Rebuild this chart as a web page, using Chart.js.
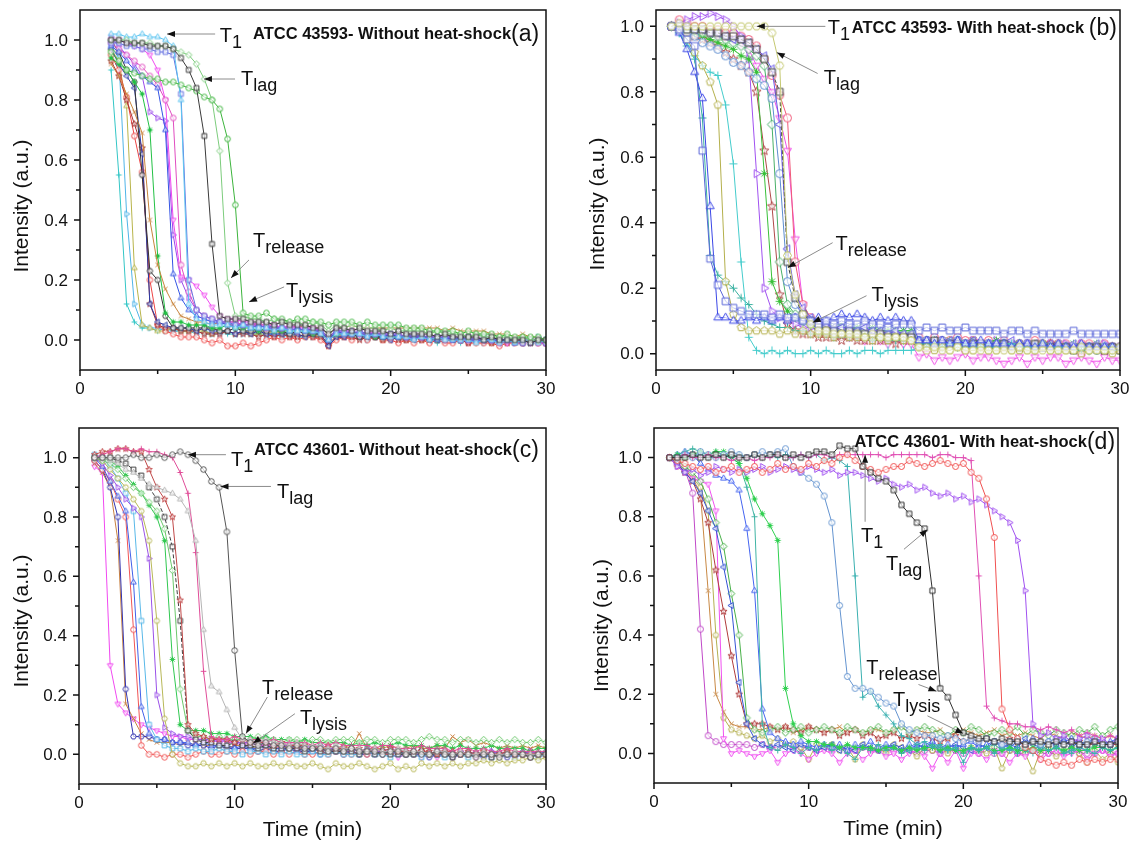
<!DOCTYPE html>
<html>
<head>
<meta charset="utf-8">
<script src="https://cdn.jsdelivr.net/npm/chart.js@4.4.1/dist/chart.umd.min.js"></script>
<style>
  body { margin: 0; background: #fff; }
  #wrap { position: relative; width: 1132px; height: 846px; overflow: hidden; }
  .panel { position: absolute; width: 566px; height: 423px; }
</style>
</head>
<body>
<div id="wrap">
  <div class="panel" style="left:0;top:0"><canvas id="chartA" width="566" height="423"></canvas></div>
  <div class="panel" style="left:566px;top:0"><canvas id="chartB" width="566" height="423"></canvas></div>
  <div class="panel" style="left:0;top:423px"><canvas id="chartC" width="566" height="423"></canvas></div>
  <div class="panel" style="left:566px;top:423px"><canvas id="chartD" width="566" height="423"></canvas></div>
</div>
<script>
// ---- sample times (min) ----
const minutesFrom2 = [2.0,2.5,3.0,3.5,4.0,4.5,5.0,5.5,6.0,6.5,7.0,7.5,8.0,8.5,9.0,9.5,10.0,10.5,11.0,11.5,
  12.0,12.5,13.0,13.5,14.0,14.5,15.0,15.5,16.0,16.5,17.0,17.5,18.0,18.5,19.0,19.5,20.0,20.5,21.0,21.5,
  22.0,22.5,23.0,23.5,24.0,24.5,25.0,25.5,26.0,26.5,27.0,27.5,28.0,28.5,29.0,29.5,30.0];
const minutesFrom1 = [1.0,1.5,2.0,2.5,3.0,3.5,4.0,4.5,5.0,5.5,6.0,6.5,7.0,7.5,8.0,8.5,9.0,9.5,10.0,10.5,
  11.0,11.5,12.0,12.5,13.0,13.5,14.0,14.5,15.0,15.5,16.0,16.5,17.0,17.5,18.0,18.5,19.0,19.5,20.0,20.5,
  21.0,21.5,22.0,22.5,23.0,23.5,24.0,24.5,25.0,25.5,26.0,26.5,27.0,27.5,28.0,28.5,29.0,29.5,30.0];

// ---- axis ticks ----
const xMajor = [0, 10, 20, 30];
const xMinor = [5, 15, 25];
const yMajor = [0.0, 0.2, 0.4, 0.6, 0.8, 1.0];
const yMinor = [0.1, 0.3, 0.5, 0.7, 0.9];

// ---- (a) ATCC 43593 without heat-shock ----
const a_cyanPlus = [0.90,0.55,0.12,0.06,0.04,0.04,0.03,0.04,0.03,0.03,
  0.03,0.03,0.02,0.02,0.03,0.02,0.02,0.03,0.02,0.02,
  0.02,0.02,0.01,0.02,0.01,0.01,0.01,0.01,-0.02,0.01,
  0.01,0.01,0.01,0.00,0.01,0.01,0.00,0.01,0.00,0.00,
  0.01,0.00,-0.01,0.00,0.00,-0.01,0.00,-0.01,0.00,-0.01,
  -0.01,-0.01,0.00,0.00,-0.01,-0.01,-0.01];
const a_skyTriR = [0.98,0.94,0.42,0.12,0.05,0.04,0.04,0.03,0.03,0.03,
  0.03,0.02,0.03,0.02,0.02,0.03,0.02,0.02,0.02,0.02,
  0.01,0.02,0.01,0.02,0.01,0.02,0.01,0.01,-0.01,0.01,
  0.01,0.01,0.01,0.00,0.01,0.01,0.00,0.01,0.00,0.01,
  0.00,0.01,0.00,0.00,0.00,0.01,-0.01,0.00,-0.01,0.00,
  -0.01,0.00,-0.01,0.00,-0.01,0.01,0.00];
const a_oliveTri = [0.97,0.93,0.78,0.24,0.05,0.04,0.03,0.03,0.04,0.03,
  0.03,0.03,0.03,0.02,0.03,0.03,0.02,0.03,0.02,0.02,
  0.02,0.03,0.02,0.02,0.02,0.01,0.02,0.01,-0.01,0.01,
  0.02,0.01,0.01,0.01,0.01,0.00,0.01,0.01,0.00,0.01,
  0.00,0.01,0.00,0.01,0.00,0.00,0.01,0.00,0.00,-0.01,
  0.00,0.00,-0.01,0.00,0.00,-0.01,0.00];
const a_redCircle = [0.95,0.90,0.81,0.68,0.56,0.20,0.05,0.03,0.02,0.01,
  0.01,0.01,0.00,-0.01,0.00,-0.02,-0.02,-0.01,-0.02,-0.01,
  0.00,0.01,0.00,0.01,0.00,0.01,0.01,0.00,-0.02,0.00,
  0.01,0.00,0.01,0.00,0.01,0.00,0.00,-0.01,0.00,-0.01,
  0.00,-0.01,0.00,-0.01,-0.01,0.00,-0.01,-0.01,-0.01,-0.01,
  -0.02,-0.01,-0.01,-0.01,0.00,-0.01,-0.01];
const a_brownStar = [0.93,0.88,0.80,0.72,0.64,0.12,0.05,0.04,0.04,0.03,
  0.03,0.03,0.02,0.02,0.02,0.03,0.02,0.02,0.02,0.01,
  0.02,0.01,0.02,0.01,0.01,0.02,0.01,0.01,-0.02,0.01,
  0.01,0.01,0.00,0.01,0.01,0.00,0.01,0.00,0.00,0.01,
  0.00,0.00,0.01,0.00,0.00,0.00,-0.01,0.00,0.00,-0.01,
  0.00,-0.01,0.00,0.00,-0.01,0.00,-0.01];
const a_navyTriL = [0.97,0.92,0.88,0.84,0.62,0.12,0.06,0.05,0.04,0.04,
  0.04,0.03,0.04,0.03,0.03,0.03,0.02,0.03,0.02,0.03,
  0.02,0.02,0.02,0.02,0.02,0.01,0.02,0.02,-0.02,0.01,
  0.01,0.02,0.01,0.01,0.01,0.01,0.00,0.01,0.01,0.00,
  0.01,0.00,0.00,0.01,0.00,0.00,0.00,0.01,0.00,0.00,
  -0.01,0.00,0.00,-0.01,0.00,0.00,-0.01];
const a_darkHex = [1.00,0.96,0.90,0.86,0.55,0.23,0.20,0.08,0.04,0.04,
  0.04,0.04,0.04,0.04,0.03,0.03,0.04,0.03,0.03,0.03,
  0.03,0.03,0.03,0.02,0.03,0.02,0.02,0.02,0.00,0.02,
  0.02,0.02,0.01,0.02,0.01,0.01,0.01,0.01,0.01,0.01,
  0.01,0.01,0.01,0.00,0.01,0.00,0.01,0.00,0.00,0.00,
  0.00,0.00,0.00,-0.01,0.00,0.00,-0.01];
const a_greenStar = [0.94,0.92,0.90,0.86,0.82,0.70,0.28,0.09,0.06,0.06,
  0.05,0.05,0.05,0.04,0.04,0.05,0.04,0.04,0.04,0.03,
  0.04,0.03,0.03,0.03,0.03,0.03,0.02,0.03,0.01,0.02,
  0.02,0.02,0.02,0.02,0.01,0.02,0.01,0.01,0.02,0.01,
  0.01,0.01,0.00,0.01,0.01,0.00,0.01,0.00,0.00,0.01,
  0.00,0.00,0.00,-0.01,0.00,0.00,0.00];
const a_orangeX = [0.92,0.88,0.82,0.76,0.69,0.40,0.25,0.17,0.12,0.08,
  0.07,0.06,0.06,0.05,0.06,0.05,0.05,0.05,0.05,0.05,
  0.05,0.05,0.04,0.05,0.04,0.05,0.04,0.04,0.02,0.04,
  0.04,0.05,0.04,0.04,0.04,0.04,0.04,0.04,0.04,0.04,
  0.04,0.04,0.04,0.03,0.04,0.03,0.03,0.03,0.03,0.02,
  0.02,0.02,0.01,0.02,0.01,0.01,0.00];
const a_purpleTriR = [1.01,0.98,0.95,0.92,0.88,0.76,0.74,0.73,0.35,0.20,
  0.14,0.10,0.08,0.07,0.06,0.06,0.06,0.05,0.05,0.05,
  0.04,0.05,0.04,0.04,0.04,0.03,0.04,0.03,0.00,0.03,
  0.03,0.02,0.03,0.02,0.02,0.02,0.02,0.01,0.02,0.01,
  0.01,0.01,0.01,0.01,0.00,0.01,0.00,0.00,0.01,0.00,
  0.00,0.00,-0.01,0.00,0.00,-0.01,-0.01];
const a_magentaTriD = [1.00,1.00,0.99,0.98,0.97,0.95,0.90,0.80,0.40,0.21,
  0.20,0.18,0.15,0.11,0.08,0.07,0.07,0.06,0.06,0.05,
  0.05,0.05,0.04,0.05,0.04,0.04,0.04,0.03,0.01,0.03,
  0.03,0.03,0.02,0.03,0.02,0.02,0.02,0.02,0.01,0.02,
  0.01,0.01,0.01,0.01,0.01,0.00,0.01,0.00,0.00,0.00,
  0.00,-0.01,0.00,0.00,-0.01,0.00,-0.01];
const a_pinkCircle = [0.99,0.97,0.95,0.93,0.91,0.88,0.85,0.80,0.74,0.25,
  0.16,0.10,0.08,0.07,0.06,0.06,0.06,0.05,0.05,0.05,
  0.04,0.04,0.04,0.04,0.03,0.04,0.03,0.03,0.01,0.03,
  0.02,0.03,0.02,0.02,0.02,0.02,0.01,0.02,0.01,0.01,
  0.01,0.01,0.01,0.00,0.01,0.00,0.00,0.01,0.00,0.00,
  -0.01,0.00,0.00,-0.01,0.00,-0.01,-0.01];
const a_blueTri = [0.98,0.96,0.93,0.90,0.88,0.86,0.84,0.70,0.22,0.14,
  0.10,0.08,0.07,0.06,0.06,0.05,0.05,0.05,0.04,0.05,
  0.04,0.04,0.04,0.03,0.04,0.03,0.03,0.03,0.00,0.03,
  0.02,0.03,0.02,0.02,0.02,0.01,0.02,0.01,0.01,0.01,
  0.01,0.01,0.00,0.01,0.00,0.01,0.00,0.00,0.00,0.00,
  0.00,0.00,-0.01,0.00,-0.01,0.00,0.00];
const a_periSquare = [0.99,0.99,0.98,0.98,0.97,0.97,0.96,0.96,0.95,0.82,
  0.20,0.10,0.08,0.07,0.06,0.06,0.05,0.05,0.05,0.04,
  0.05,0.04,0.04,0.04,0.03,0.04,0.03,0.03,0.01,0.03,
  0.03,0.02,0.03,0.02,0.02,0.02,0.02,0.02,0.01,0.02,
  0.01,0.01,0.01,0.01,0.01,0.00,0.01,0.00,0.01,0.00,
  0.00,0.00,0.00,-0.01,0.00,0.00,-0.01];
const a_skyTri = [1.02,1.02,1.01,1.01,1.02,1.01,1.01,1.00,0.98,0.80,
  0.12,0.07,0.06,0.05,0.05,0.05,0.04,0.05,0.04,0.04,
  0.04,0.03,0.04,0.03,0.03,0.03,0.03,0.02,0.00,0.02,
  0.02,0.02,0.02,0.01,0.02,0.01,0.01,0.01,0.01,0.00,
  0.01,0.00,0.01,0.00,0.00,0.00,0.00,-0.01,0.00,0.00,
  -0.01,0.00,-0.01,0.00,0.00,-0.01,0.00];
const a_blackSquare = [1.00,1.00,0.99,0.99,0.99,0.98,0.98,0.98,0.97,0.94,
  0.90,0.84,0.68,0.32,0.08,0.07,0.07,0.07,0.06,0.06,
  0.06,0.05,0.06,0.05,0.05,0.05,0.04,0.04,0.02,0.04,
  0.04,0.03,0.04,0.03,0.03,0.03,0.02,0.03,0.02,0.02,
  0.02,0.02,0.01,0.02,0.01,0.01,0.01,0.01,0.00,0.01,
  0.00,0.00,0.00,0.00,-0.01,0.00,0.00];
const a_lightGreenDia = [1.00,1.00,1.00,0.99,0.99,0.99,0.98,0.98,0.97,0.96,
  0.95,0.92,0.87,0.80,0.63,0.19,0.08,0.08,0.07,0.07,
  0.06,0.07,0.06,0.06,0.06,0.05,0.06,0.05,0.03,0.05,
  0.04,0.05,0.04,0.04,0.04,0.03,0.04,0.03,0.03,0.03,
  0.03,0.02,0.03,0.02,0.02,0.02,0.01,0.02,0.01,0.01,
  0.01,0.01,0.00,0.01,0.00,0.00,0.00];
const a_greenCircle = [0.96,0.93,0.90,0.89,0.88,0.87,0.87,0.86,0.86,0.85,
  0.84,0.83,0.81,0.80,0.77,0.67,0.45,0.09,0.08,0.08,
  0.09,0.07,0.07,0.06,0.07,0.07,0.06,0.06,0.05,0.06,
  0.06,0.06,0.05,0.06,0.05,0.05,0.05,0.05,0.04,0.04,
  0.04,0.03,0.03,0.03,0.03,0.02,0.03,0.02,0.02,0.02,
  0.01,0.02,0.01,0.01,0.01,0.01,0.00];

// ---- (b) ATCC 43593 with heat-shock ----
const b_blueTri = [1.00,0.98,0.93,0.86,0.78,0.45,0.11,0.11,0.10,0.10,
  0.11,0.10,0.11,0.10,0.11,0.10,0.11,0.10,0.10,0.11,
  0.10,0.11,0.12,0.11,0.12,0.11,0.10,0.11,0.10,0.11,
  0.10,0.10,0.04,0.04,0.03,0.04,0.03,0.04,0.03,0.03,
  0.04,0.03,0.03,0.03,0.02,0.03,0.03,0.02,0.03,0.02,
  0.03,0.02,0.02,0.03,0.02,0.02,0.02,0.02,0.02];
const b_periSquare = [1.00,0.99,0.96,0.94,0.62,0.29,0.21,0.16,0.14,0.13,
  0.12,0.12,0.12,0.11,0.12,0.11,0.11,0.10,0.10,0.09,
  0.10,0.09,0.10,0.09,0.09,0.10,0.09,0.09,0.08,0.09,
  0.09,0.09,0.07,0.08,0.07,0.08,0.07,0.07,0.08,0.07,
  0.07,0.07,0.07,0.06,0.07,0.07,0.06,0.07,0.06,0.06,
  0.06,0.06,0.07,0.06,0.06,0.06,0.06,0.06,0.06];
const b_olivePent = [1.00,0.99,0.96,0.92,0.88,0.83,0.76,0.22,0.12,0.08,
  0.07,0.07,0.07,0.07,0.06,0.07,0.06,0.07,0.06,0.06,
  0.06,0.05,0.06,0.05,0.05,0.05,0.04,0.05,0.04,0.05,
  0.04,0.04,0.02,0.02,0.01,0.02,0.01,0.02,0.01,0.01,
  0.02,0.01,0.01,0.02,0.01,0.01,0.01,0.01,0.02,0.01,
  0.01,0.01,0.01,0.00,0.01,0.01,0.01,0.00,0.01];
const b_cyanPlus = [1.00,0.98,0.95,0.91,0.88,0.86,0.85,0.76,0.58,0.28,
  0.05,0.01,0.00,0.01,0.00,0.01,0.00,0.00,0.01,0.00,
  0.01,0.00,0.00,0.01,0.00,0.01,0.01,0.00,0.01,0.01,
  0.01,0.01,0.02,0.02,0.03,0.02,0.03,0.02,0.03,0.02,
  0.02,0.03,0.02,0.02,0.03,0.02,0.02,0.02,0.03,0.02,
  0.02,0.02,0.01,0.02,0.02,0.01,0.02,0.02,0.01];
const b_tealPlus = [1.00,0.98,0.94,0.90,0.72,0.30,0.24,0.22,0.20,0.17,
  0.15,0.12,0.10,0.09,0.08,0.08,0.07,0.07,0.06,0.06,
  0.06,0.05,0.06,0.05,0.05,0.05,0.04,0.05,0.04,0.04,
  0.04,0.04,0.03,0.03,0.03,0.02,0.03,0.02,0.02,0.03,
  0.02,0.02,0.02,0.03,0.02,0.02,0.02,0.01,0.02,0.02,
  0.01,0.02,0.01,0.01,0.02,0.01,0.01,0.01,0.01];
const b_purpleTriR = [1.00,1.01,1.02,1.03,1.03,1.04,1.03,1.02,1.00,0.97,
  0.90,0.55,0.20,0.13,0.11,0.10,0.09,0.08,0.08,0.07,
  0.07,0.06,0.07,0.06,0.06,0.05,0.06,0.05,0.05,0.05,
  0.05,0.05,0.03,0.03,0.03,0.04,0.03,0.03,0.03,0.04,
  0.03,0.03,0.04,0.03,0.03,0.03,0.03,0.02,0.03,0.03,
  0.02,0.03,0.02,0.03,0.02,0.02,0.03,0.02,0.02];
const b_brownStar = [1.00,0.99,0.98,0.97,0.96,0.95,0.94,0.92,0.90,0.88,
  0.86,0.80,0.62,0.45,0.18,0.09,0.07,0.06,0.06,0.05,
  0.05,0.05,0.04,0.05,0.04,0.04,0.04,0.04,0.04,0.03,
  0.04,0.04,0.03,0.03,0.03,0.02,0.03,0.03,0.02,0.03,
  0.02,0.03,0.02,0.02,0.03,0.02,0.02,0.02,0.02,0.03,
  0.02,0.02,0.02,0.01,0.02,0.02,0.01,0.02,0.02];
const b_greenStar = [1.00,0.99,0.99,0.98,0.97,0.96,0.95,0.94,0.93,0.91,
  0.90,0.86,0.55,0.22,0.16,0.13,0.11,0.10,0.09,0.08,
  0.08,0.08,0.08,0.07,0.08,0.07,0.08,0.07,0.07,0.07,
  0.07,0.07,0.04,0.03,0.04,0.03,0.04,0.03,0.03,0.04,
  0.03,0.03,0.04,0.03,0.03,0.03,0.02,0.03,0.03,0.02,
  0.03,0.02,0.03,0.02,0.02,0.03,0.02,0.02,0.02];
const b_greenDia = [1.00,1.00,0.99,0.99,0.98,0.98,0.97,0.96,0.95,0.94,
  0.93,0.91,0.88,0.70,0.28,0.15,0.12,0.10,0.09,0.08,
  0.08,0.07,0.08,0.07,0.07,0.06,0.07,0.06,0.06,0.06,
  0.06,0.06,0.03,0.04,0.03,0.03,0.03,0.04,0.03,0.03,
  0.03,0.02,0.03,0.03,0.02,0.03,0.02,0.02,0.03,0.02,
  0.02,0.02,0.02,0.02,0.01,0.02,0.02,0.01,0.02];
const b_steelCircle = [1.00,0.99,0.98,0.97,0.95,0.94,0.93,0.91,0.89,0.88,
  0.86,0.84,0.82,0.78,0.55,0.22,0.15,0.12,0.10,0.08,
  0.08,0.07,0.07,0.07,0.06,0.07,0.06,0.06,0.05,0.06,
  0.05,0.05,0.04,0.04,0.03,0.04,0.03,0.04,0.03,0.03,
  0.03,0.03,0.02,0.03,0.03,0.02,0.03,0.02,0.02,0.02,
  0.02,0.02,0.02,0.02,0.02,0.01,0.02,0.02,0.01];
const b_blackSquare = [1.00,1.00,0.99,0.99,0.99,0.98,0.98,0.97,0.97,0.96,
  0.95,0.93,0.90,0.86,0.80,0.28,0.17,0.12,0.10,0.08,
  0.07,0.07,0.06,0.07,0.06,0.06,0.05,0.06,0.05,0.05,
  0.05,0.05,0.03,0.03,0.04,0.03,0.03,0.03,0.02,0.03,
  0.03,0.02,0.02,0.03,0.02,0.02,0.02,0.03,0.02,0.02,
  0.02,0.02,0.01,0.02,0.02,0.02,0.01,0.02,0.01];
const b_violetTriL = [1.00,1.00,1.00,0.99,0.99,0.98,0.98,0.97,0.96,0.96,
  0.95,0.93,0.91,0.87,0.70,0.32,0.18,0.14,0.11,0.09,
  0.09,0.08,0.08,0.08,0.07,0.08,0.07,0.07,0.06,0.07,
  0.06,0.06,0.04,0.04,0.04,0.03,0.04,0.04,0.03,0.04,
  0.03,0.03,0.03,0.03,0.04,0.03,0.03,0.03,0.02,0.03,
  0.03,0.02,0.03,0.02,0.02,0.03,0.02,0.02,0.02];
const b_pinkCircle = [1.00,1.02,1.01,1.00,1.00,0.99,0.99,0.98,0.98,0.97,
  0.96,0.94,0.90,0.85,0.79,0.72,0.28,0.15,0.11,0.09,
  0.08,0.07,0.07,0.07,0.06,0.06,0.06,0.05,0.06,0.05,
  0.05,0.05,0.05,0.04,0.05,0.04,0.04,0.05,0.04,0.04,
  0.03,0.04,0.03,0.04,0.03,0.03,0.03,0.04,0.03,0.03,
  0.03,0.03,0.02,0.03,0.03,0.02,0.03,0.02,0.02];
const b_magentaTriD = [1.00,1.00,0.99,0.99,0.98,0.98,0.97,0.97,0.96,0.95,
  0.93,0.88,0.84,0.80,0.72,0.62,0.35,0.15,0.10,0.08,
  0.07,0.06,0.06,0.05,0.05,0.04,0.05,0.04,0.03,0.04,
  0.03,0.03,-0.01,0.00,-0.02,-0.01,-0.02,-0.01,0.00,-0.02,
  -0.01,-0.01,-0.02,-0.03,-0.02,-0.01,-0.03,-0.01,-0.02,-0.01,
  -0.01,-0.03,-0.02,-0.01,-0.02,-0.03,-0.01,-0.02,-0.02];
const b_yellowHex = [1.00,1.01,1.00,1.00,1.00,1.00,1.00,1.00,1.00,1.00,
  1.00,1.00,1.00,0.98,0.88,0.30,0.18,0.12,0.09,0.07,
  0.07,0.06,0.06,0.06,0.06,0.05,0.06,0.05,0.05,0.05,
  0.05,0.04,0.02,0.01,0.02,0.01,0.01,0.02,0.01,0.01,
  0.01,0.01,0.01,0.01,0.01,0.02,0.01,0.01,0.01,0.01,
  0.01,0.01,0.01,0.02,0.01,0.01,0.01,0.01,0.02];

// ---- (c) ATCC 43601 without heat-shock ----
const c_magentaTriD = [0.97,0.95,0.30,0.17,0.14,0.12,0.10,0.09,0.08,0.07,
  0.06,0.06,0.05,0.05,0.05,0.04,0.05,0.04,0.04,0.03,
  0.04,0.03,0.03,0.03,0.02,0.03,0.02,0.02,0.02,0.01,
  0.02,0.01,0.01,0.01,0.00,0.01,0.00,0.01,0.00,-0.01,
  0.00,0.00,-0.01,0.00,-0.01,0.00,-0.01,0.00,0.00,-0.01,
  0.00,-0.01,0.00,0.00,-0.01,0.00,-0.01,0.00,0.00];
const c_brownX = [0.98,0.95,0.90,0.72,0.17,0.12,0.07,0.05,0.04,0.04,
  0.04,0.03,0.04,0.03,0.03,0.03,0.03,0.02,0.03,0.03,
  0.02,0.03,0.02,0.02,0.03,0.02,0.02,0.02,0.02,0.02,
  0.02,0.02,0.03,0.02,0.07,0.02,0.02,0.02,0.03,0.02,
  0.02,0.03,0.02,0.02,0.03,0.02,0.06,0.04,0.05,0.03,
  0.04,0.03,0.02,0.03,0.02,0.03,0.02,0.03,0.02];
const c_navyHex = [0.99,0.96,0.90,0.80,0.22,0.06,0.06,0.06,0.05,0.05,
  0.04,0.04,0.03,0.03,0.03,0.02,0.03,0.02,0.02,0.02,
  0.02,0.01,0.02,0.01,0.01,0.02,0.01,0.01,0.01,0.00,
  0.01,0.01,0.00,0.01,0.00,0.00,0.01,0.00,0.00,0.01,
  0.00,0.00,0.00,-0.01,0.00,0.00,-0.01,0.00,0.00,0.00,
  -0.01,0.00,0.00,-0.01,0.00,0.00,0.01,0.00,0.00];
const c_redCircle = [0.99,0.96,0.92,0.86,0.80,0.42,0.03,0.00,0.00,-0.01,
  0.00,0.00,-0.01,0.00,0.01,0.00,0.00,0.01,0.00,0.01,
  0.00,0.01,0.01,0.00,0.01,0.00,0.01,0.00,0.00,0.01,
  0.00,0.01,0.00,0.00,0.01,0.00,0.01,0.00,0.00,0.01,
  0.00,0.00,0.01,0.00,0.01,0.00,0.00,0.01,0.00,0.00,
  0.01,0.00,0.00,0.01,0.00,0.00,0.01,0.00,0.00];
const c_blueTri = [1.00,0.97,0.92,0.87,0.82,0.58,0.16,0.07,0.05,0.05,
  0.04,0.04,0.04,0.03,0.04,0.03,0.03,0.03,0.02,0.03,
  0.02,0.02,0.03,0.02,0.02,0.02,0.01,0.02,0.01,0.02,
  0.01,0.01,0.01,0.02,0.01,0.01,0.00,0.01,0.01,0.00,
  0.01,0.01,0.00,0.01,0.00,0.01,0.00,0.00,0.01,0.00,
  0.00,0.01,0.00,0.00,0.00,0.01,0.00,0.00,0.01];
const c_skySquare = [1.01,1.00,0.97,0.93,0.88,0.82,0.45,0.10,0.05,0.03,
  0.02,0.02,0.01,0.02,0.01,0.01,0.02,0.01,0.01,0.00,
  0.01,0.01,0.00,0.01,0.00,0.01,0.00,0.00,0.01,0.00,
  0.00,0.01,0.00,0.00,0.00,0.01,0.00,0.00,-0.01,0.00,
  0.00,0.00,-0.01,0.00,0.00,-0.01,0.00,0.00,-0.01,0.00,
  0.00,-0.01,0.00,0.00,-0.01,0.00,0.00,-0.01,0.00];
const c_purpleTriR = [1.00,0.98,0.94,0.90,0.86,0.83,0.80,0.66,0.20,0.09,
  0.07,0.06,0.06,0.05,0.05,0.05,0.04,0.05,0.04,0.04,
  0.04,0.03,0.04,0.03,0.03,0.03,0.02,0.03,0.02,0.03,
  0.02,0.02,0.02,0.02,0.01,0.02,0.01,0.01,0.02,0.01,
  0.01,0.01,0.01,0.00,0.01,0.01,0.00,0.01,0.00,0.00,
  0.00,0.01,0.00,0.00,0.00,0.00,0.01,0.00,0.00];
const c_oliveHex = [1.00,0.99,0.96,0.93,0.90,0.86,0.82,0.72,0.45,0.12,
  0.00,-0.03,-0.04,-0.04,-0.03,-0.04,-0.03,-0.04,-0.03,-0.04,
  -0.03,-0.04,-0.04,-0.03,-0.04,-0.03,-0.04,-0.04,-0.03,-0.04,
  -0.05,-0.03,-0.04,-0.04,-0.03,-0.04,-0.05,-0.04,-0.03,-0.05,
  -0.04,-0.05,-0.03,-0.04,-0.03,-0.04,-0.03,-0.04,-0.03,-0.03,
  -0.02,-0.03,-0.02,-0.03,-0.02,-0.02,-0.01,-0.02,-0.01];
const c_greenStar = [1.00,1.00,0.99,0.97,0.94,0.91,0.88,0.84,0.80,0.72,
  0.32,0.10,0.08,0.08,0.08,0.07,0.07,0.07,0.06,0.06,
  0.06,0.05,0.06,0.05,0.05,0.05,0.04,0.05,0.04,0.04,
  0.04,0.04,0.04,0.03,0.04,0.03,0.04,0.03,0.03,0.04,
  0.03,0.03,0.03,0.02,0.03,0.03,0.02,0.03,0.02,0.02,
  0.02,0.03,0.02,0.02,0.02,0.02,0.01,0.02,0.02];
const c_lightGreenDia = [1.00,0.99,0.98,0.96,0.93,0.90,0.88,0.85,0.82,0.76,
  0.62,0.22,0.08,0.06,0.06,0.05,0.06,0.05,0.05,0.05,
  0.05,0.06,0.05,0.05,0.04,0.05,0.05,0.04,0.05,0.05,
  0.04,0.05,0.05,0.05,0.04,0.05,0.05,0.04,0.05,0.05,
  0.05,0.04,0.05,0.06,0.05,0.05,0.04,0.05,0.05,0.04,
  0.05,0.04,0.05,0.04,0.05,0.04,0.04,0.05,0.04];
const c_blackSquare = [1.00,1.00,1.00,0.99,0.98,0.96,0.94,0.90,0.86,0.80,
  0.70,0.45,0.08,0.05,0.04,0.04,0.03,0.03,0.04,0.03,
  0.03,0.02,0.03,0.02,0.02,0.02,0.02,0.01,0.02,0.01,
  0.01,0.01,0.01,0.01,0.00,0.01,0.00,0.01,0.00,0.00,
  0.00,0.00,0.01,0.00,0.00,0.00,-0.01,0.00,0.00,0.00,
  0.00,-0.01,0.00,0.00,0.00,0.00,-0.01,0.00,0.00];
const c_brownStar = [1.01,1.02,1.02,1.03,1.03,1.02,1.02,0.96,0.90,0.86,
  0.80,0.52,0.10,0.07,0.06,0.05,0.05,0.05,0.04,0.05,
  0.04,0.04,0.04,0.03,0.04,0.03,0.03,0.03,0.03,0.02,
  0.03,0.02,0.02,0.02,0.02,0.01,0.02,0.01,0.02,0.01,
  0.01,0.01,0.01,0.01,0.00,0.01,0.01,0.00,0.01,0.00,
  0.01,0.00,0.00,0.01,0.00,0.00,0.00,0.00,0.00];
const c_pinkPlus = [1.00,1.01,1.02,1.03,1.03,1.02,1.03,1.02,1.02,1.01,
  1.00,0.95,0.88,0.68,0.28,0.06,0.05,0.05,0.06,0.05,
  0.05,0.05,0.04,0.05,0.04,0.04,0.04,0.04,0.03,0.04,
  0.03,0.04,0.03,0.03,0.03,0.03,0.02,0.03,0.03,0.02,
  0.02,0.02,0.03,0.02,0.02,0.02,0.01,0.02,0.02,0.01,
  0.02,0.01,0.01,0.02,0.01,0.01,0.01,0.01,0.01];
const c_grayTri = [1.00,1.00,0.99,0.98,0.96,0.95,0.93,0.91,0.90,0.89,
  0.88,0.86,0.82,0.72,0.42,0.23,0.21,0.15,0.09,0.05,
  0.05,0.04,0.05,0.04,0.04,0.03,0.04,0.03,0.03,0.03,
  0.02,0.03,0.02,0.02,0.02,0.01,0.02,0.01,0.01,0.02,
  0.01,0.01,0.01,0.00,0.01,0.01,0.00,0.01,0.00,0.00,
  0.01,0.00,0.00,0.00,0.01,0.00,0.00,0.00,0.00];
const c_darkCircle = [1.00,1.00,1.00,1.00,1.00,1.01,1.00,1.00,1.01,1.00,
  1.01,1.02,1.01,0.99,0.96,0.92,0.90,0.75,0.35,0.06,
  0.04,0.03,0.04,0.03,0.03,0.02,0.03,0.02,0.02,0.02,
  0.01,0.02,0.01,0.02,0.01,0.01,0.01,0.00,0.01,0.01,
  0.00,0.01,0.00,0.00,0.01,0.00,0.00,0.00,0.00,-0.01,
  0.00,0.00,-0.01,0.00,0.00,0.00,-0.01,0.00,0.00];

// ---- (d) ATCC 43601 with heat-shock ----
const d_purpleCircle = [1.00,0.98,0.96,0.88,0.42,0.06,0.04,0.03,0.03,0.03,
  0.03,0.02,0.03,0.02,0.02,0.03,0.02,0.02,0.02,0.01,
  0.02,0.01,0.02,0.01,0.01,0.02,0.01,0.01,0.01,0.01,
  0.01,0.01,0.00,0.01,0.01,0.00,0.01,0.01,0.00,0.01,
  0.00,0.01,0.00,0.00,0.01,0.00,0.00,0.01,0.00,0.00,
  0.00,0.00,0.01,0.00,0.00,0.00,0.01,0.00,0.00];
const d_brownX = [1.00,0.98,0.96,0.93,0.88,0.55,0.20,0.14,0.10,0.09,
  0.09,0.08,0.08,0.09,0.08,0.09,0.07,0.08,0.09,0.08,
  0.07,0.08,0.09,0.07,0.08,0.07,0.08,0.08,0.07,0.08,
  0.09,0.07,0.08,0.07,0.07,0.08,0.06,0.07,0.08,0.07,
  0.06,0.07,0.08,0.06,0.07,0.06,0.07,0.06,0.05,0.07,
  0.06,0.05,0.07,0.06,0.05,0.06,0.05,0.06,0.05];
const d_olivePent = [1.00,0.97,0.95,0.93,0.90,0.82,0.40,0.12,0.08,0.07,
  0.06,0.05,0.06,0.04,0.05,0.03,0.04,0.02,-0.02,0.03,
  0.02,0.03,0.01,0.02,-0.02,0.03,0.01,0.02,0.00,0.03,
  0.02,0.01,-0.01,0.02,0.01,0.02,0.00,0.02,0.01,0.02,
  0.01,0.00,0.02,-0.05,0.01,0.02,0.00,-0.06,0.01,0.02,
  -0.01,0.01,0.02,0.00,-0.03,0.01,-0.02,0.00,-0.03];
const d_magentaTriD = [1.00,0.97,0.95,0.93,0.92,0.91,0.82,0.05,0.00,0.01,
  0.00,-0.01,0.00,0.01,-0.03,0.00,0.01,0.00,-0.02,0.00,
  0.01,0.00,-0.03,0.00,0.01,-0.02,0.00,0.01,-0.01,0.00,
  -0.02,0.00,0.01,-0.01,-0.05,0.00,-0.03,0.01,-0.05,0.00,
  0.00,-0.02,0.01,0.00,-0.03,0.00,-0.01,0.01,-0.02,0.00,
  0.01,-0.01,0.00,0.01,-0.02,0.00,0.01,-0.01,0.00];
const d_brownStar = [1.00,0.98,0.95,0.92,0.86,0.78,0.62,0.48,0.33,0.20,
  0.10,0.10,0.10,0.09,0.08,0.09,0.08,0.07,0.09,0.08,
  0.07,0.08,0.06,0.07,0.08,0.06,0.07,0.05,0.06,0.07,
  0.05,0.06,0.05,0.06,0.05,0.04,0.05,0.06,0.04,0.05,
  0.04,0.05,0.04,0.03,0.05,0.04,0.03,0.04,0.03,0.04,
  0.03,0.04,0.03,0.04,0.03,0.03,0.04,0.03,0.03];
const d_greenDia = [1.00,0.99,0.97,0.95,0.92,0.86,0.78,0.70,0.54,0.40,
  0.12,0.08,0.07,0.08,0.09,0.07,0.08,0.09,0.07,0.08,
  0.09,0.08,0.07,0.09,0.08,0.07,0.08,0.09,0.07,0.08,
  0.09,0.07,0.08,0.09,0.08,0.07,0.06,0.08,0.07,0.09,
  0.08,0.06,0.07,0.08,0.07,0.09,0.06,0.08,0.07,0.06,
  0.08,0.07,0.06,0.08,0.07,0.09,0.06,0.08,0.09];
const d_blueTriL = [1.00,0.98,0.95,0.92,0.88,0.82,0.76,0.63,0.50,0.24,
  0.10,0.05,0.03,0.02,0.03,0.02,0.01,0.03,0.02,0.01,
  0.02,0.03,0.01,0.02,0.01,0.03,0.02,0.01,0.02,0.03,
  0.02,0.01,0.03,0.02,0.03,0.01,0.02,0.03,0.02,0.01,
  0.03,0.02,0.04,0.02,0.03,0.02,0.05,0.03,0.02,0.04,
  0.03,0.05,0.02,0.04,0.03,0.05,0.04,0.03,0.05];
const d_blueTri = [1.00,1.01,1.02,1.01,0.98,0.96,0.94,0.93,0.92,0.89,
  0.76,0.55,0.15,0.07,0.05,0.04,0.03,0.04,0.03,0.02,
  0.03,0.02,0.03,0.01,0.03,0.02,0.04,0.02,0.03,0.02,
  0.01,0.03,0.02,0.03,0.04,0.02,0.03,0.02,0.03,0.04,
  0.02,0.03,0.04,0.03,0.02,0.04,0.03,0.05,0.03,0.04,
  0.03,0.04,0.05,0.03,0.04,0.05,0.03,0.04,0.05];
const d_tealPlus = [1.00,1.01,1.02,1.03,1.02,1.01,1.02,1.01,1.00,0.98,
  0.90,0.80,0.10,0.02,0.01,0.03,0.02,0.00,0.02,0.01,
  0.03,0.01,0.02,0.00,-0.02,0.02,0.01,0.03,0.01,0.02,
  0.00,0.01,0.02,0.01,0.03,0.02,0.01,0.02,0.00,0.02,
  0.01,0.02,0.03,0.01,0.02,0.00,0.02,0.01,0.03,0.01,
  0.02,0.01,0.00,0.02,0.01,0.03,0.02,0.01,0.02];
const d_greenStar = [1.00,1.01,1.00,1.01,1.02,1.01,1.02,1.02,1.00,0.98,
  0.93,0.86,0.81,0.77,0.72,0.22,0.10,0.06,0.04,0.04,
  0.03,0.03,0.02,0.03,0.02,0.02,0.02,0.01,0.02,0.02,
  0.01,0.02,0.01,0.02,0.02,0.01,0.02,0.01,0.01,0.02,
  0.01,0.02,0.01,0.01,0.02,0.01,0.01,0.02,0.01,0.01,
  0.02,0.01,0.02,0.01,0.01,0.02,0.02,0.01,0.02];
const d_steelCircle = [1.00,1.00,1.01,1.00,1.02,1.01,1.00,1.01,1.02,1.01,
  1.00,1.01,1.02,1.01,1.02,1.03,0.97,0.95,0.93,0.91,
  0.87,0.78,0.50,0.26,0.22,0.22,0.21,0.19,0.17,0.16,
  0.10,0.08,0.07,0.06,0.06,0.05,0.06,0.05,0.04,0.05,
  0.04,0.05,0.04,0.03,0.04,0.05,0.03,0.04,0.03,0.04,
  0.05,0.03,0.04,0.03,0.04,0.05,0.04,0.03,0.04];
const d_tealPlus2 = [1.00,1.00,1.01,1.00,1.01,1.00,1.00,1.01,1.00,1.01,
  1.00,1.01,1.00,1.01,1.00,1.01,1.00,1.01,1.00,1.01,
  0.99,1.00,0.99,0.97,0.60,0.19,0.21,0.16,0.13,0.10,
  0.06,0.05,0.03,0.04,0.02,0.03,0.01,0.02,-0.03,0.02,
  0.01,0.02,0.00,0.02,0.01,0.02,0.01,0.00,0.02,0.01,
  0.02,0.00,0.01,0.02,0.01,0.00,0.02,0.01,0.02];
const d_blackSquare = [1.00,1.00,1.00,1.01,1.00,1.00,1.01,1.00,1.01,1.00,
  1.00,1.01,1.00,1.01,1.01,1.00,1.01,1.00,1.01,1.02,
  1.02,1.01,1.04,1.03,1.03,0.97,0.95,0.93,0.92,0.89,
  0.84,0.81,0.78,0.76,0.55,0.22,0.19,0.13,0.07,0.06,
  0.05,0.05,0.04,0.05,0.04,0.04,0.03,0.04,0.04,0.03,
  0.04,0.03,0.04,0.03,0.03,0.04,0.03,0.03,0.04];
const d_pinkPlus = [1.00,1.00,1.01,1.00,1.00,1.01,1.00,1.00,0.99,1.00,
  1.00,0.99,1.00,1.00,1.01,1.00,1.00,1.01,1.00,1.01,
  1.01,1.00,1.01,1.01,1.01,1.01,1.01,1.01,1.00,1.01,
  1.01,1.01,1.01,1.01,1.00,1.01,1.01,1.00,1.00,0.99,
  0.60,0.16,0.12,0.11,0.10,0.10,0.09,0.09,0.08,0.09,
  0.08,0.07,0.08,0.06,0.07,0.06,0.05,0.06,0.05];
const d_redCircle = [1.00,0.99,0.98,0.97,0.96,0.97,0.95,0.96,0.97,0.95,
  0.96,0.97,0.95,0.96,0.98,0.96,0.97,0.96,0.98,0.97,
  0.99,0.98,1.00,1.01,0.99,0.97,0.96,0.95,0.96,0.97,
  0.97,0.99,0.98,0.97,0.98,0.99,0.98,0.97,0.98,0.95,
  0.93,0.86,0.73,0.15,0.08,0.05,0.02,0.01,-0.02,-0.03,
  -0.04,-0.03,-0.04,-0.02,-0.03,-0.02,-0.03,-0.02,-0.02];
const d_purpleTriR = [1.00,0.97,0.95,0.96,0.94,0.95,0.97,0.96,0.95,0.96,
  0.95,0.96,0.97,0.95,0.96,0.97,0.96,0.95,0.97,0.96,
  0.95,0.96,0.94,0.95,0.95,0.94,0.93,0.92,0.93,0.91,
  0.90,0.91,0.89,0.90,0.88,0.87,0.88,0.86,0.87,0.85,
  0.86,0.84,0.82,0.80,0.78,0.72,0.55,0.10,0.06,0.07,
  0.05,0.06,0.04,0.05,0.06,0.04,0.05,0.03,0.05];

// ---- series styling ----
const seriesA = [
  { values: a_blackSquare, color: '#3a3a3a', shape: 'square' },
  { values: a_greenCircle, color: '#3cb43c', shape: 'circle' },
  { values: a_lightGreenDia, color: '#7ccc7c', shape: 'diamond' },
  { values: a_skyTri, color: '#5cc4f0', shape: 'triUp' },
  { values: a_periSquare, color: '#6470e0', shape: 'square' },
  { values: a_blueTri, color: '#3454e4', shape: 'triUp' },
  { values: a_pinkCircle, color: '#e04cc0', shape: 'circle' },
  { values: a_magentaTriD, color: '#f048f0', shape: 'triDown' },
  { values: a_purpleTriR, color: '#9a48ea', shape: 'triRight' },
  { values: a_orangeX, color: '#c8843c', shape: 'cross' },
  { values: a_greenStar, color: '#22c044', shape: 'asterisk' },
  { values: a_darkHex, color: '#333333', shape: 'hexagon' },
  { values: a_navyTriL, color: '#2a3aa8', shape: 'triLeft' },
  { values: a_brownStar, color: '#a83232', shape: 'star' },
  { values: a_redCircle, color: '#ee4444', shape: 'circle' },
  { values: a_oliveTri, color: '#b8b44a', shape: 'triUp' },
  { values: a_skyTriR, color: '#4fb4e8', shape: 'triRight' },
  { values: a_cyanPlus, color: '#33c6c6', shape: 'plus' }
];
const seriesB = [
  { values: b_yellowHex, color: '#c4c870', shape: 'hexagon' },
  { values: b_periSquare, color: '#5a66d8', shape: 'square' },
  { values: b_blueTri, color: '#3a46e6', shape: 'triUp' },
  { values: b_olivePent, color: '#b4b04c', shape: 'pentagon' },
  { values: b_cyanPlus, color: '#44cccc', shape: 'plus' },
  { values: b_tealPlus, color: '#38b0a0', shape: 'plus' },
  { values: b_blackSquare, color: '#404040', shape: 'square', dash: [4, 2] },
  { values: b_violetTriL, color: '#6a5ae8', shape: 'triLeft' },
  { values: b_steelCircle, color: '#5c8cd0', shape: 'circle' },
  { values: b_greenDia, color: '#48b068', shape: 'diamond' },
  { values: b_greenStar, color: '#38c038', shape: 'asterisk' },
  { values: b_brownStar, color: '#b04848', shape: 'star' },
  { values: b_purpleTriR, color: '#a050f0', shape: 'triRight' },
  { values: b_pinkCircle, color: '#f05878', shape: 'circle' },
  { values: b_magentaTriD, color: '#f050e8', shape: 'triDown' }
];
const seriesC = [
  { values: c_darkCircle, color: '#555555', shape: 'circle' },
  { values: c_grayTri, color: '#b4b4b4', shape: 'triUp' },
  { values: c_pinkPlus, color: '#e04c98', shape: 'plus' },
  { values: c_brownStar, color: '#c04848', shape: 'star' },
  { values: c_blackSquare, color: '#404040', shape: 'square', dash: [4, 2] },
  { values: c_lightGreenDia, color: '#6cc86c', shape: 'diamond' },
  { values: c_greenStar, color: '#30c850', shape: 'asterisk' },
  { values: c_oliveHex, color: '#b8b858', shape: 'hexagon' },
  { values: c_purpleTriR, color: '#9a50e8', shape: 'triRight' },
  { values: c_skySquare, color: '#58b8e8', shape: 'square' },
  { values: c_blueTri, color: '#4060e8', shape: 'triUp' },
  { values: c_redCircle, color: '#f05454', shape: 'circle' },
  { values: c_navyHex, color: '#3434b0', shape: 'hexagon' },
  { values: c_brownX, color: '#c88040', shape: 'cross' },
  { values: c_magentaTriD, color: '#f048f0', shape: 'triDown' }
];
const seriesD = [
  { values: d_blackSquare, color: '#303030', shape: 'square' },
  { values: d_redCircle, color: '#f05050', shape: 'circle' },
  { values: d_purpleTriR, color: '#a050f0', shape: 'triRight' },
  { values: d_pinkPlus, color: '#e050b4', shape: 'plus' },
  { values: d_steelCircle, color: '#6494d0', shape: 'circle' },
  { values: d_tealPlus2, color: '#3ab0b0', shape: 'plus' },
  { values: d_greenStar, color: '#30d050', shape: 'asterisk' },
  { values: d_tealPlus, color: '#40b4a4', shape: 'plus' },
  { values: d_blueTri, color: '#4464f0', shape: 'triUp' },
  { values: d_blueTriL, color: '#3454d4', shape: 'triLeft' },
  { values: d_greenDia, color: '#48b048', shape: 'diamond' },
  { values: d_brownStar, color: '#b03c3c', shape: 'star' },
  { values: d_magentaTriD, color: '#f050f0', shape: 'triDown' },
  { values: d_olivePent, color: '#b4b050', shape: 'pentagon' },
  { values: d_brownX, color: '#c88844', shape: 'cross' },
  { values: d_purpleCircle, color: '#c048c8', shape: 'circle' }
];

const FONT = '"Liberation Sans", Arial, sans-serif';

function makeMarker(shape, color, r) {
  const size = Math.ceil(2 * r + 5);
  const cv = document.createElement('canvas');
  cv.width = size; cv.height = size;
  const g = cv.getContext('2d');
  const m = size / 2;
  g.strokeStyle = color;
  g.fillStyle = 'rgba(255,255,255,0.65)';
  g.lineWidth = 1;
  const poly = (n, rot, rad, inner) => {
    g.beginPath();
    const steps = inner ? n * 2 : n;
    for (let k = 0; k < steps; k++) {
      const ang = rot + k * 2 * Math.PI / steps;
      const rr = inner && k % 2 ? inner : rad;
      const px = m + rr * Math.cos(ang), py = m + rr * Math.sin(ang);
      if (k) g.lineTo(px, py); else g.moveTo(px, py);
    }
    g.closePath();
  };
  let lines = false;
  switch (shape) {
    case 'circle': g.beginPath(); g.arc(m, m, r, 0, 2 * Math.PI); break;
    case 'square': g.beginPath(); g.rect(m - r * 0.85, m - r * 0.85, r * 1.7, r * 1.7); break;
    case 'triUp': poly(3, -Math.PI / 2, r * 1.15); break;
    case 'triDown': poly(3, Math.PI / 2, r * 1.15); break;
    case 'triLeft': poly(3, Math.PI, r * 1.15); break;
    case 'triRight': poly(3, 0, r * 1.15); break;
    case 'diamond': poly(4, -Math.PI / 2, r * 1.15); break;
    case 'hexagon': poly(6, 0, r); break;
    case 'pentagon': poly(5, -Math.PI / 2, r); break;
    case 'star': poly(5, -Math.PI / 2, r * 1.2, r * 0.5); break;
    default: lines = true;
  }
  if (!lines) { g.fill(); g.stroke(); return cv; }
  g.beginPath();
  if (shape === 'plus' || shape === 'asterisk') {
    g.moveTo(m - r, m); g.lineTo(m + r, m);
    g.moveTo(m, m - r); g.lineTo(m, m + r);
  }
  if (shape === 'cross' || shape === 'asterisk') {
    const d = r * 0.75;
    g.moveTo(m - d, m - d); g.lineTo(m + d, m + d);
    g.moveTo(m - d, m + d); g.lineTo(m + d, m - d);
  }
  g.stroke();
  return cv;
}

function drawArrow(ctx, x1, y1, x2, y2) {
  ctx.strokeStyle = '#8c8c8c'; ctx.lineWidth = 1;
  ctx.beginPath(); ctx.moveTo(x1, y1); ctx.lineTo(x2, y2); ctx.stroke();
  const ang = Math.atan2(y2 - y1, x2 - x1);
  const c = Math.cos(ang), s = Math.sin(ang);
  ctx.fillStyle = '#111';
  ctx.beginPath();
  ctx.moveTo(x2, y2);
  ctx.lineTo(x2 - 8 * c + 3 * s, y2 - 8 * s - 3 * c);
  ctx.lineTo(x2 - 8 * c - 3 * s, y2 - 8 * s + 3 * c);
  ctx.closePath(); ctx.fill();
}

function makeDecor(cfg) {
  return {
    id: 'decor',
    afterDraw(chart) {
      const ctx = chart.ctx, a = chart.chartArea;
      const xs = chart.scales.x, ys = chart.scales.y;
      const X = v => xs.getPixelForValue(v), Y = v => ys.getPixelForValue(v);
      ctx.save();
      // frame and ticks
      ctx.strokeStyle = '#111'; ctx.lineWidth = 1.5;
      ctx.strokeRect(a.left, a.top, a.right - a.left, a.bottom - a.top);
      ctx.beginPath();
      xMajor.forEach(v => { ctx.moveTo(X(v), a.bottom); ctx.lineTo(X(v), a.bottom + 6); });
      xMinor.forEach(v => { ctx.moveTo(X(v), a.bottom); ctx.lineTo(X(v), a.bottom + 4); });
      yMajor.forEach(v => { ctx.moveTo(a.left, Y(v)); ctx.lineTo(a.left - 6, Y(v)); });
      yMinor.forEach(v => { ctx.moveTo(a.left, Y(v)); ctx.lineTo(a.left - 4, Y(v)); });
      ctx.stroke();
      // tick labels
      ctx.fillStyle = '#111';
      ctx.font = '17px ' + FONT;
      ctx.textBaseline = 'middle';
      ctx.textAlign = 'center';
      xMajor.forEach(v => ctx.fillText(String(v), X(v), a.bottom + 19));
      ctx.textAlign = 'right';
      yMajor.forEach(v => ctx.fillText(v.toFixed(1), a.left - 12, Y(v) + 1));
      // axis titles
      ctx.font = '21px ' + FONT;
      ctx.textAlign = 'center';
      ctx.save();
      ctx.translate(a.left - cfg.yTitleGap, (a.top + a.bottom) / 2 + cfg.yTitleShift);
      ctx.rotate(-Math.PI / 2);
      ctx.fillText('Intensity (a.u.)', 0, 0);
      ctx.restore();
      if (cfg.xTitle) {
        ctx.fillText('Time (min)', (a.left + a.right) / 2 + cfg.xTitleShift, a.bottom + 46);
      }
      // panel title
      ctx.textBaseline = 'alphabetic';
      ctx.textAlign = 'left';
      ctx.font = 'bold 16.5px ' + FONT;
      const w1 = ctx.measureText(cfg.title.text).width;
      ctx.font = '23px ' + FONT;
      const w2 = ctx.measureText(cfg.title.tag).width;
      const tx = X(cfg.title.x) - w1 - w2, ty = Y(cfg.title.y) + 6;
      ctx.font = 'bold 16.5px ' + FONT;
      ctx.fillText(cfg.title.text, tx, ty);
      ctx.font = '23px ' + FONT;
      ctx.fillText(cfg.title.tag, tx + w1, ty + 2);
      // T markers with arrows
      cfg.notes.forEach(n => {
        drawArrow(ctx, X(n.from[0]), Y(n.from[1]), X(n.to[0]), Y(n.to[1]));
        ctx.fillStyle = '#111';
        ctx.font = '20px ' + FONT;
        const px = X(n.x), py = Y(n.y);
        ctx.fillText('T', px, py + 7);
        const wt = ctx.measureText('T').width;
        ctx.font = '18px ' + FONT;
        ctx.fillText(n.sub, px + wt, py + 13);
      });
      ctx.restore();
    }
  };
}

function buildChart(id, cfg) {
  const datasets = cfg.series.map(s => ({
    data: cfg.times.map((t, i) => ({ x: t, y: s.values[i] })),
    borderColor: s.color,
    borderWidth: 1,
    borderDash: s.dash || [],
    pointStyle: makeMarker(s.shape, s.color, cfg.markerSize),
    pointRadius: cfg.markerSize,
    tension: 0,
    fill: false
  }));
  return new Chart(document.getElementById(id), {
    type: 'line',
    data: { datasets: datasets },
    options: {
      responsive: false,
      animation: false,
      devicePixelRatio: 1,
      layout: { padding: cfg.padding },
      scales: {
        x: { type: 'linear', min: 0, max: 30, display: false },
        y: { type: 'linear', min: cfg.yMin, max: cfg.yMax, display: false }
      },
      plugins: { legend: { display: false }, tooltip: { enabled: false } }
    },
    plugins: [makeDecor(cfg)]
  });
}

buildChart('chartA', {
  times: minutesFrom2, series: seriesA, markerSize: 2.8, yMin: -0.1, yMax: 1.1,
  padding: { left: 80, right: 20, top: 10, bottom: 53 },
  yTitleGap: 58, yTitleShift: 16, xTitle: false, xTitleShift: 0,
  title: { text: 'ATCC 43593- Without heat-shock', tag: '(a)', x: 29.56, y: 1.023 },
  notes: [
    { sub: '1', x: 9.0, y: 1.017, from: [8.7, 1.02], to: [5.6, 1.02] },
    { sub: 'lag', x: 10.37, y: 0.873, from: [9.98, 0.87], to: [7.98, 0.87] },
    { sub: 'release', x: 11.14, y: 0.333, from: [10.88, 0.267], to: [9.72, 0.207] },
    { sub: 'lysis', x: 13.26, y: 0.167, from: [13.14, 0.177], to: [10.88, 0.127] }
  ]
});
buildChart('chartB', {
  times: minutesFrom1, series: seriesB, markerSize: 4, yMin: -0.05, yMax: 1.05,
  padding: { left: 90, right: 12, top: 10, bottom: 53 },
  yTitleGap: 58, yTitleShift: 14, xTitle: false, xTitleShift: 0,
  title: { text: 'ATCC 43593- With heat-shock ', tag: '(b)', x: 29.8, y: 0.997 },
  notes: [
    { sub: '1', x: 11.1, y: 0.997, from: [10.95, 1.0], to: [6.52, 1.0] },
    { sub: 'lag', x: 10.84, y: 0.844, from: [10.45, 0.856], to: [7.81, 0.92] },
    { sub: 'release', x: 11.61, y: 0.339, from: [11.42, 0.339], to: [8.52, 0.263] },
    { sub: 'lysis', x: 13.94, y: 0.183, from: [13.61, 0.177], to: [10.13, 0.095] }
  ]
});
buildChart('chartC', {
  times: minutesFrom1, series: seriesC, markerSize: 2.8, yMin: -0.1, yMax: 1.1,
  padding: { left: 79, right: 20, top: 1, bottom: 62 },
  yTitleGap: 57, yTitleShift: 15, xTitle: true, xTitleShift: 0,
  title: { text: 'ATCC 43601- Without heat-shock', tag: '(c)', x: 29.54, y: 1.03 },
  notes: [
    { sub: '1', x: 9.76, y: 0.997, from: [9.44, 1.01], to: [7.0, 1.01] },
    { sub: 'lag', x: 12.72, y: 0.887, from: [12.33, 0.903], to: [9.09, 0.903] },
    { sub: 'release', x: 11.75, y: 0.227, from: [12.1, 0.193], to: [10.73, 0.07] },
    { sub: 'lysis', x: 14.19, y: 0.127, from: [13.87, 0.137], to: [11.18, 0.037] }
  ]
});
buildChart('chartD', {
  times: minutesFrom1, series: seriesD, markerSize: 3, yMin: -0.1, yMax: 1.1,
  padding: { left: 88, right: 14, top: 1, bottom: 63 },
  yTitleGap: 52, yTitleShift: 20, xTitle: true, xTitleShift: 7,
  title: { text: 'ATCC 43601- With heat-shock', tag: '(d)', x: 29.81, y: 1.057 },
  notes: [
    { sub: '1', x: 13.39, y: 0.74, from: [13.65, 0.783], to: [13.65, 1.01] },
    { sub: 'lag', x: 15.0, y: 0.643, from: [16.16, 0.69], to: [17.68, 0.757] },
    { sub: 'release', x: 13.72, y: 0.293, from: [17.1, 0.233], to: [18.26, 0.21] },
    { sub: 'lysis', x: 15.45, y: 0.183, from: [17.68, 0.127], to: [20.0, 0.067] }
  ]
});
</script>
</body>
</html>
